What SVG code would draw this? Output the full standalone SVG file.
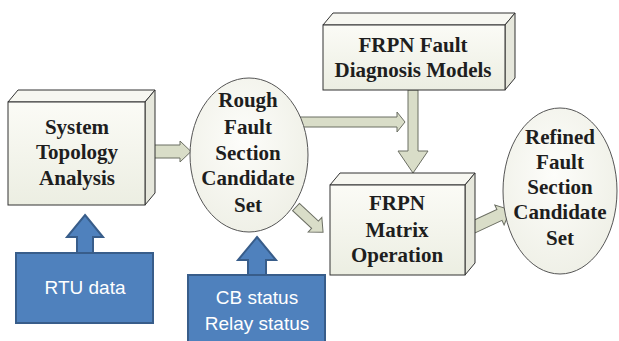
<svg xmlns="http://www.w3.org/2000/svg" width="619" height="341" viewBox="0 0 619 341">
<defs>
<linearGradient id="gFront" x1="0" y1="0" x2="0" y2="1">
<stop offset="0" stop-color="#FBFBF6"/><stop offset="1" stop-color="#ECEEE2"/>
</linearGradient>
<radialGradient id="gEll" cx="0.45" cy="0.4" r="0.7">
<stop offset="0" stop-color="#FDFDFA"/><stop offset="1" stop-color="#EDEEE4"/>
</radialGradient>
</defs>
<style>
.front{fill:url(#gFront);stroke:#333;stroke-width:1}
.top{fill:#F7F7F1;stroke:#333;stroke-width:1}
.side{fill:#E6E7DC;stroke:#333;stroke-width:1}
.ell{fill:url(#gEll);stroke:#555;stroke-width:1}
.arr{fill:#D9DDC8;stroke:#6B6E63;stroke-width:1}
.lbl{font-family:"Liberation Serif","Times New Roman",serif;font-weight:bold;font-size:21px;fill:#1E1E1E;text-anchor:middle}
.blue{fill:#4F81BD;stroke:#385D8A;stroke-width:2}
.btxt{font-family:"Liberation Sans",Arial,sans-serif;font-size:19px;fill:#FFFFFF;text-anchor:middle}
</style>

<g id="connectors">
<polygon class="arr" points="145,145 180,145 180,141 191,151.5 180,162 180,158 145,158"/>
<polygon class="arr" points="300,117 397,117 397,112 405,122 397,132 397,127 300,127"/>
<polygon class="arr" transform="translate(296,207) rotate(43)" points="0,-5 26,-5 26,-10 37,0 26,10 26,5 0,5"/>
<polygon class="arr" points="408,90 418,90 418,151 428,151 413,173 398,151 408,151"/>
<polygon class="arr" transform="translate(465,231) rotate(-25)" points="0,-6 38,-6 38,-11 50,0 38,11 38,6 0,6"/>
<polygon class="blue" points="85,215 103,237 93,237 93,253 77,253 77,237 67,237"/>
<polygon class="blue" points="257,237 276,260 266,260 266,275 248,275 248,260 238,260"/>
</g>

<g id="system-topology">
<polygon class="top" points="8,102 18,90 155,90 145,102"/>
<polygon class="side" points="145,102 155,90 155,193 145,205"/>
<rect class="front" x="8" y="102" width="137" height="103"/>
<text class="lbl" x="77" y="134">System</text>
<text class="lbl" x="77" y="159">Topology</text>
<text class="lbl" x="77" y="185">Analysis</text>
</g>

<g id="rough-set">
<ellipse class="ell" cx="249" cy="155" rx="59" ry="77"/>
<text class="lbl" x="248" y="107">Rough</text>
<text class="lbl" x="248" y="134">Fault</text>
<text class="lbl" x="248" y="160">Section</text>
<text class="lbl" x="248" y="185">Candidate</text>
<text class="lbl" x="248" y="212">Set</text>
</g>

<g id="frpn-models">
<polygon class="top" points="323,25 333,13 515,13 505,25"/>
<polygon class="side" points="505,25 515,13 515,78 505,90"/>
<rect class="front" x="323" y="25" width="182" height="65"/>
<text class="lbl" x="413" y="52">FRPN Fault</text>
<text class="lbl" x="413" y="77">Diagnosis Models</text>
</g>

<g id="frpn-matrix">
<polygon class="top" points="330,185 340,173 475,173 465,185"/>
<polygon class="side" points="465,185 475,173 475,263 465,275"/>
<rect class="front" x="330" y="185" width="135" height="90"/>
<text class="lbl" x="397" y="210">FRPN</text>
<text class="lbl" x="397" y="237">Matrix</text>
<text class="lbl" x="397" y="262">Operation</text>
</g>

<g id="refined-set">
<ellipse class="ell" cx="560" cy="191" rx="57" ry="83"/>
<text class="lbl" x="560" y="144">Refined</text>
<text class="lbl" x="560" y="169">Fault</text>
<text class="lbl" x="560" y="194">Section</text>
<text class="lbl" x="560" y="219">Candidate</text>
<text class="lbl" x="560" y="245">Set</text>
</g>

<g id="rtu-data">
<rect class="blue" x="16" y="253" width="137" height="70"/>
<text class="btxt" x="85" y="294">RTU data</text>
</g>

<g id="cb-relay-status">
<rect class="blue" x="188" y="275" width="137" height="72"/>
<text class="btxt" x="257" y="304">CB status</text>
<text class="btxt" x="257" y="330">Relay status</text>
</g>
</svg>
